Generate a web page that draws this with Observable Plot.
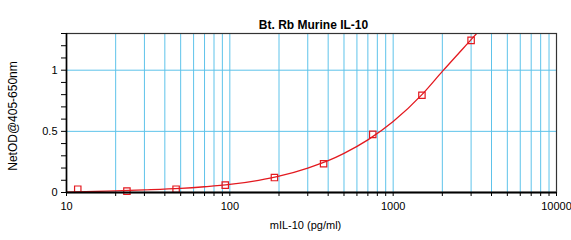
<!DOCTYPE html>
<html><head><meta charset="utf-8">
<script src="https://cdn.jsdelivr.net/npm/d3@7"></script>
<script src="https://cdn.jsdelivr.net/npm/@observablehq/plot@0.6"></script>
<style>body{margin:0;background:#fff}</style>
</head><body><div id="chart"></div>
<script>
const conc = [11.72, 23.44, 46.88, 93.75, 187.5, 375, 750, 1500, 3000];
const od = [0.027, 0.011, 0.027, 0.06, 0.122, 0.235, 0.475, 0.795, 1.244];
const fitX = [10, 15, 20, 30, 50, 70, 100, 150, 200, 300, 400, 500, 700, 1000, 1500, 2000, 3000, 3400];
const fitY = [0.003, 0.008, 0.014, 0.021, 0.033, 0.047, 0.066, 0.1, 0.133, 0.2, 0.26, 0.32, 0.43, 0.58, 0.8, 0.99, 1.25, 1.33];
const xTicks = [10,20,30,40,50,60,70,80,90,100,200,300,400,500,600,700,800,900,1000,2000,3000,4000,5000,6000,7000,8000,9000,10000];
const xLabels = [10, 100, 1000, 10000];
const yTicks = [0,0.1,0.2,0.3,0.4,0.5,0.6,0.7,0.8,0.9,1,1.1,1.2,1.3];
const yLabels = [0, 0.5, 1];
const yGrid = [0.5, 1];
const title = "Bt. Rb Murine IL-10";
const xTitle = "mIL-10 (pg/ml)";
const yTitle = "NetOD@405-650nm";

const points = conc.map((c, i) => ({x: c, y: od[i]}));
const fit = fitX.map((c, i) => ({x: c, y: fitY[i]}));
const red = "#e3191f";
const grid = "#5ec3ea";

const chart = Plot.plot({
  width: 571, height: 240,
  marginLeft: 66, marginRight: 15, marginTop: 33, marginBottom: 48,
  style: {fontFamily: "'Liberation Sans', Arial, sans-serif", fontSize: "11px", color: "#000", background: "#fff"},
  x: {type: "log", domain: [10, 10000]},
  y: {domain: [0, 1.3]},
  marks: [
    Plot.ruleX(xTicks.filter(d => d > 10 && d < 10000), {stroke: grid, strokeWidth: 1}),
    Plot.ruleY(yGrid, {stroke: grid, strokeWidth: 1}),
    Plot.line(fit, {x: "x", y: "y", stroke: red, strokeWidth: 1.3, curve: "monotone-x", clip: true}),
    Plot.dot(points, {x: "x", y: "y", symbol: "square", r: 3.6, stroke: red, fill: "none", strokeWidth: 1.2}),
    Plot.frame({stroke: "#333", strokeWidth: 1.2}),
    Plot.ruleY([0], {stroke: "#000", strokeWidth: 2}),
    Plot.ruleX([10], {stroke: "#000", strokeWidth: 1.6}),
    Plot.axisX({ticks: xTicks, tickSize: 4, tickPadding: 6, tickFormat: d => xLabels.includes(d) ? String(d) : "", label: null}),
    Plot.axisY({ticks: yTicks, tickSize: 5, tickPadding: 4, tickFormat: d => yLabels.includes(d) ? String(d) : "", label: null}),
    Plot.text([title], {frameAnchor: "top", dx: 2, dy: -13, fontWeight: "bold", fontSize: 12}),
    Plot.text([xTitle], {frameAnchor: "bottom", dx: -6, dy: 36, fontSize: 11}),
    Plot.text([yTitle], {frameAnchor: "left", textAnchor: "middle", rotate: -90, dx: -53, dy: 3, fontSize: 12})
  ]
});
document.getElementById("chart").append(chart);
</script>
</body></html>
